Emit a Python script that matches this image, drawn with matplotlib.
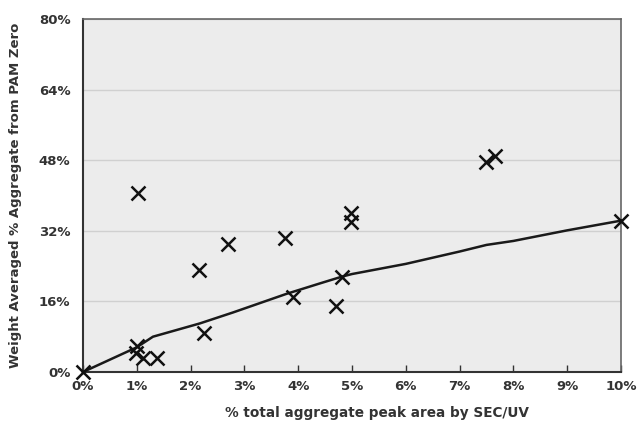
import numpy as np
import matplotlib.pyplot as plt
from matplotlib.ticker import FuncFormatter

# measured samples: SEC/UV aggregate area (%) vs weight averaged aggregate (%)
sec_uv = [0.0, 1.0, 0.98, 1.12, 1.38, 1.02, 2.16, 2.25, 2.70, 3.76, 3.91,
          4.70, 4.81, 4.99, 4.99, 7.49, 7.66, 10.0]
pam_agg = [0.0, 5.8, 4.4, 3.2, 3.1, 40.6, 23.1, 8.8, 29.0, 30.3, 16.9,
           15.0, 21.6, 36.0, 34.1, 47.7, 49.0, 34.3]

# model curve
curve_x = [0.0, 1.0, 1.3, 2.17, 2.79, 3.78, 4.41, 4.81, 5.0, 6.0, 7.0, 7.5, 8.0, 9.0, 10.0]
curve_y = [0.0, 5.6, 8.0, 11.0, 13.5, 17.7, 20.1, 21.6, 22.2, 24.5, 27.3, 28.8, 29.7, 32.1, 34.3]

fig = plt.figure(figsize=(6.37, 4.22), dpi=100)
ax = fig.add_axes([0.1303, 0.1185, 0.8446, 0.8365])
ax.set_facecolor('#ececec')

ax.plot(curve_x, curve_y, color='#1a1a1a', lw=1.8, zorder=3, clip_on=False)
ax.plot(sec_uv, pam_agg, 'x', color='#111111', ms=10.5, mew=1.8, zorder=4, clip_on=False)

ax.set_xlim(0, 10)
ax.set_ylim(0, 80)
ax.set_xticks(np.arange(0, 11, 1))
ax.set_yticks([0, 16, 32, 48, 64, 80])
ax.xaxis.set_major_formatter(FuncFormatter(lambda v, p: '%d%%' % v))
ax.yaxis.set_major_formatter(FuncFormatter(lambda v, p: '%d%%' % v))
ax.grid(axis='y', color='#d0d0d0', lw=1.0)
ax.set_axisbelow(True)

ax.tick_params(axis='x', direction='in', length=5, width=1, color='#333333',
               labelsize=9.5, labelcolor='#333333', pad=6)
ax.tick_params(axis='y', length=0, labelsize=9.5, labelcolor='#333333', pad=9)
for lab in ax.get_xticklabels() + ax.get_yticklabels():
    lab.set_fontweight('bold')

for side in ['left', 'bottom']:
    ax.spines[side].set_color('#333333')
    ax.spines[side].set_linewidth(1.5)
for side in ['top', 'right']:
    ax.spines[side].set_color('#666666')
    ax.spines[side].set_linewidth(1.2)

ax.set_xlabel('% total aggregate peak area by SEC/UV', fontsize=9.8,
              fontweight='bold', color='#333333')
ax.xaxis.set_label_coords(0.546, -0.095)
ax.set_ylabel('Weight Averaged % Aggregate from PAM Zero', fontsize=9.5,
              fontweight='bold', color='#333333', labelpad=12)

fig.savefig('out.png', dpi=100)
